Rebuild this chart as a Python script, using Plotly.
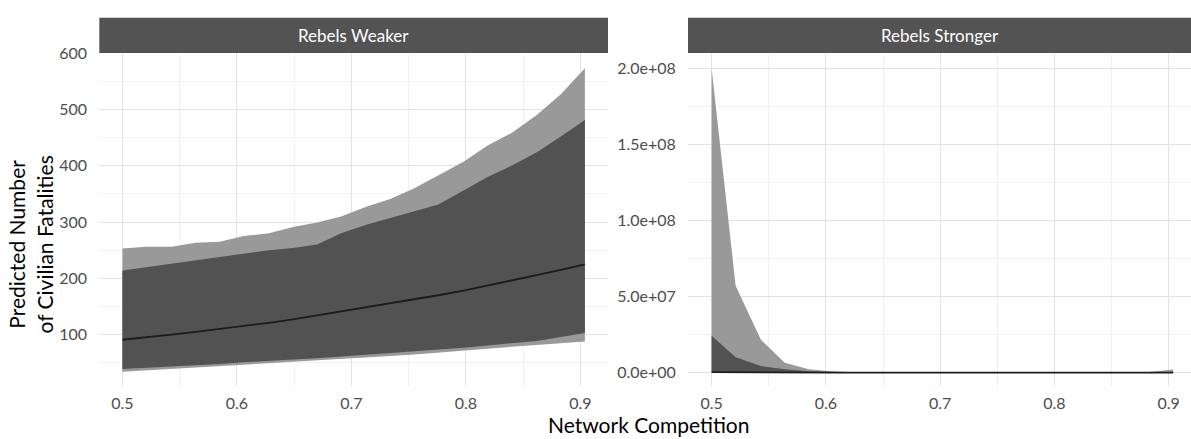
import plotly.graph_objects as go

# Network competition grid (shared by both panels)
competition = [0.500, 0.521, 0.543, 0.564, 0.585, 0.606, 0.628, 0.649, 0.670, 0.691,
               0.713, 0.734, 0.755, 0.776, 0.798, 0.819, 0.840, 0.862, 0.883, 0.904]

# Rebels weaker: point prediction and two confidence bands
weak_fit = [91, 95, 100, 105, 110, 116, 121, 127, 134, 141,
            148, 155, 162, 170, 178, 187, 196, 205, 215, 225]
weak_inner_lo = [39, 41, 44, 46, 48, 51, 54, 56, 58, 61,
                 64, 67, 70, 73, 77, 81, 85, 89, 96, 103]
weak_inner_hi = [214, 220, 226, 232, 238, 244, 250, 254, 260, 280,
                 295, 307, 319, 331, 356, 380, 400, 424, 452, 481]
weak_outer_lo = [34, 36.5, 38.6, 41, 43.5, 46, 48.5, 51, 53.5, 56,
                 59, 62, 65, 68, 71.5, 75, 78.5, 82, 85, 88]
weak_outer_hi = [253, 256, 256, 263, 265, 275, 280, 291, 299, 310,
                 327, 341, 360, 383, 407, 436, 458, 490, 527, 573]

# Rebels stronger: point prediction and two confidence bands
strong_fit = [3.0e5, 1.5e5, 6.0e4, 2.5e4, 1.0e4, 4.0e3, 1.6e3, 700, 320, 160,
              90, 55, 35, 25, 18, 13, 10, 9, 9, 10]
strong_inner_lo = [6e3, 2.5e3, 1.0e3, 400, 160, 60, 25, 10, 5, 2,
                   1, 1, 1, 1, 0.5, 0.5, 0.5, 0.5, 0.5, 0.5]
strong_inner_hi = [2.42e7, 1.0e7, 4.3e6, 2.2e6, 9.0e5, 3.5e5, 1.4e5, 6.0e4, 2.6e4, 1.2e4,
                   6e3, 4e3, 3e3, 3e3, 4e3, 6e3, 1.2e4, 3e4, 8e4, 3e5]
strong_outer_lo = [1e3, 400, 150, 60, 25, 10, 4, 2, 1, 0.5,
                   0.3, 0.2, 0.2, 0.2, 0.1, 0.1, 0.1, 0.1, 0.1, 0.1]
strong_outer_hi = [2.0e8, 5.72e7, 2.17e7, 6.4e6, 2.1e6, 7e5, 2.5e5, 9e4, 4e4, 2e4,
                   1e4, 8e3, 7e3, 8e3, 1.1e4, 2e4, 4e4, 1e5, 4e5, 2.0e6]

x_ticks = [0.5, 0.6, 0.7, 0.8, 0.9]
x_minor = [0.55, 0.65, 0.75, 0.85]
weak_y_ticks = [100, 200, 300, 400, 500, 600]
weak_y_minor = [50, 150, 250, 350, 450, 550]
strong_y_ticks = [0, 5e7, 1e8, 1.5e8, 2e8]
strong_y_labels = ["0.0e+00", "5.0e+07", "1.0e+08", "1.5e+08", "2.0e+08"]
strong_y_minor = [2.5e7, 7.5e7, 1.25e8, 1.75e8]
panel_titles = ["Rebels Weaker", "Rebels Stronger"]

OUTER = "#999999"
INNER = "#525252"
LINE = "#1c1c1c"
FONT = "Lato"

W, H = 1191, 439
fig = go.Figure()


def add_panel(xa, ya, lo_o, hi_o, lo_i, hi_i, fit):
    fig.add_trace(go.Scatter(x=competition, y=lo_o, mode="lines", line=dict(width=0),
                             xaxis=xa, yaxis=ya, showlegend=False, hoverinfo="skip"))
    fig.add_trace(go.Scatter(x=competition, y=hi_o, mode="lines", line=dict(width=0),
                             fill="tonexty", fillcolor=OUTER,
                             xaxis=xa, yaxis=ya, showlegend=False, hoverinfo="skip"))
    fig.add_trace(go.Scatter(x=competition, y=lo_i, mode="lines", line=dict(width=0),
                             xaxis=xa, yaxis=ya, showlegend=False, hoverinfo="skip"))
    fig.add_trace(go.Scatter(x=competition, y=hi_i, mode="lines", line=dict(width=0),
                             fill="tonexty", fillcolor=INNER,
                             xaxis=xa, yaxis=ya, showlegend=False, hoverinfo="skip"))
    fig.add_trace(go.Scatter(x=competition, y=fit, mode="lines",
                             line=dict(color=LINE, width=1.8),
                             xaxis=xa, yaxis=ya, showlegend=False))


add_panel("x", "y", weak_outer_lo, weak_outer_hi, weak_inner_lo, weak_inner_hi, weak_fit)
add_panel("x2", "y2", strong_outer_lo, strong_outer_hi, strong_inner_lo, strong_inner_hi, strong_fit)

# panel geometry in pixels
left_dom = (99.3 / W, 608 / W)
right_dom = (688 / W, 1.0)
panel_top, panel_bot = 44, 385
strip_top = 8
y_dom = (1 - panel_bot / H, 1 - panel_top / H)

tickfont = dict(family=FONT, size=16, color="#4d4d4d")
grid = "#e3e3e3"
minor_grid = "#f1f1f1"


def xaxis_cfg(dom, rng):
    return dict(domain=dom, range=rng, tickvals=x_ticks, ticktext=[f"{v:.1f}" for v in x_ticks],
                showgrid=True, gridcolor=grid, gridwidth=1, zeroline=False, showline=False,
                ticks="outside", ticklen=3, tickcolor="rgba(0,0,0,0)", tickfont=tickfont,
                minor=dict(tickvals=x_minor, showgrid=True, gridcolor=minor_grid, gridwidth=1),
                fixedrange=True)


def yaxis_cfg(rng, vals, minor_vals, anchor, text=None):
    cfg = dict(domain=y_dom, range=rng, tickvals=vals,
               showgrid=True, gridcolor=grid, gridwidth=1, zeroline=False, showline=False,
               ticks="outside", ticklen=8, tickcolor="rgba(0,0,0,0)", tickfont=tickfont,
               minor=dict(tickvals=minor_vals, showgrid=True, gridcolor=minor_grid, gridwidth=1),
               anchor=anchor, fixedrange=True)
    if text is not None:
        cfg["ticktext"] = text
    return cfg


fig.update_layout(
    width=W, height=H, margin=dict(l=0, r=0, t=0, b=0),
    paper_bgcolor="white", plot_bgcolor="white",
    xaxis=xaxis_cfg(left_dom, [0.4798, 0.9242]),
    xaxis2=xaxis_cfg(right_dom, [0.4793, 0.9196]),
    yaxis=yaxis_cfg([8.5, 600], weak_y_ticks, weak_y_minor, "x"),
    yaxis2=yaxis_cfg([-0.9e7, 2.103e8], strong_y_ticks, strong_y_minor, "x2", strong_y_labels),
)

# facet strips
for dom, title in zip([left_dom, right_dom], panel_titles):
    fig.add_shape(type="rect", xref="paper", yref="paper",
                  x0=dom[0], x1=dom[1], y0=1 - panel_top / H, y1=1 - strip_top / H,
                  fillcolor="#535353", line=dict(width=0), layer="above")
    fig.add_annotation(xref="paper", yref="paper", x=(dom[0] + dom[1]) / 2,
                       y=1 - (strip_top + panel_top) / 2 / H, text=title, showarrow=False,
                       font=dict(family=FONT, size=17, color="white"),
                       xanchor="center", yanchor="middle")

# axis titles
fig.add_annotation(xref="paper", yref="paper", x=648 / W, y=1 - 424 / H,
                   text="Network Competition", showarrow=False,
                   font=dict(family=FONT, size=21, color="black"),
                   xanchor="center", yanchor="middle")
fig.add_annotation(xref="paper", yref="paper", x=30 / W, y=1 - 240 / H,
                   text="Predicted Number<br>of Civilian Fatalities", showarrow=False,
                   textangle=-90, align="center",
                   font=dict(family=FONT, size=21, color="black"),
                   xanchor="center", yanchor="middle")

fig.write_html("out.html")
